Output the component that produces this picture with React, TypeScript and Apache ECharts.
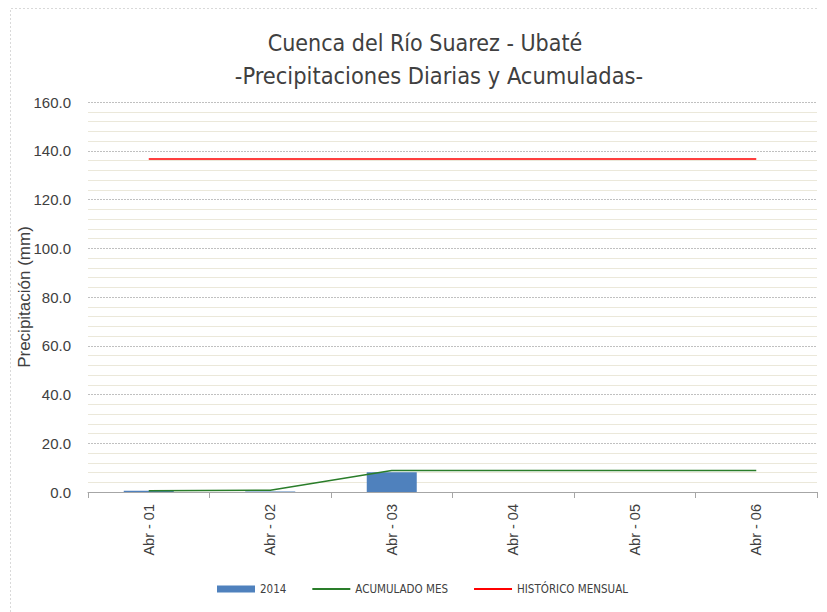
import React, { useEffect, useRef } from "react";
import * as echarts from "echarts";

const categories = ["Abr - 01", "Abr - 02", "Abr - 03", "Abr - 04", "Abr - 05", "Abr - 06"];
const daily2014 = [0.5, 0.2, 8.1, 0, 0, 0];
const acumuladoMes = [0.5, 0.7, 8.8, 8.8, 8.8, 8.8];
const historicoMensual = [136.6, 136.6, 136.6, 136.6, 136.6, 136.6];
const titleLine1 = "Cuenca del Río Suarez - Ubaté";
const titleLine2 = "-Precipitaciones Diarias y Acumuladas-";
const yAxisName = "Precipitación (mm)";

const NARROW = "'Liberation Sans Narrow', 'DejaVu Sans Condensed', sans-serif";
const SANS = "'Liberation Sans', Arial, sans-serif";

export default function App() {
  const ref = useRef<HTMLDivElement>(null);
  useEffect(() => {
    document.body.style.margin = "0";
    if (!ref.current) return;
    const chart = echarts.init(ref.current, null, { renderer: "svg" });
    chart.setOption({
      animation: false,
      backgroundColor: "#ffffff",
      title: [
        {
          text: titleLine1,
          left: 420,
          top: 26,
          textAlign: "center",
          textStyle: { fontFamily: NARROW, fontSize: 23, fontWeight: "normal", color: "#404040" },
        },
        {
          text: titleLine2,
          left: 434,
          top: 59,
          textAlign: "center",
          textStyle: { fontFamily: NARROW, fontSize: 23.4, fontWeight: "normal", color: "#404040" },
        },
      ],
      graphic: [
        {
          type: "polyline",
          shape: { points: [[10.5, 612], [10.5, 8.5], [817, 8.5]] },
          style: { fill: "none", stroke: "#d9d9d9", lineWidth: 1, lineDash: [2, 2] },
          silent: true,
        },
      ],
      grid: { left: 88, right: 10, top: 102, bottom: 120, outerBoundsMode: "none", containLabel: false },
      legend: {
        bottom: 12,
        left: 212,
        itemGap: 25,
        itemWidth: 38,
        itemHeight: 7,
        textStyle: { fontFamily: NARROW, fontSize: 11.5, color: "#404040" },
        data: [
          { name: "2014", icon: "rect" },
          { name: "ACUMULADO MES", itemStyle: { opacity: 0 } },
          { name: "HISTÓRICO MENSUAL", itemStyle: { opacity: 0 } },
        ],
      },
      xAxis: {
        type: "category",
        data: categories,
        boundaryGap: true,
        axisLine: { lineStyle: { color: "#a6a6a6" } },
        axisTick: { show: true, length: 6, lineStyle: { color: "#a6a6a6" } },
        axisLabel: { rotate: 90, fontFamily: SANS, fontSize: 14.5, color: "#404040", margin: 12 },
      },
      yAxis: {
        type: "value",
        min: 0,
        max: 160,
        interval: 20,
        name: yAxisName,
        nameLocation: "middle",
        nameGap: 55,
        nameMoveOverlap: false,
        nameTextStyle: { fontFamily: SANS, fontSize: 17, color: "#404040" },
        axisLine: { show: false },
        axisTick: { show: false },
        axisLabel: {
          fontFamily: SANS,
          fontSize: 15,
          color: "#404040",
          margin: 17,
          formatter: (v: number) => v.toFixed(1),
        },
        splitLine: { show: true, lineStyle: { color: "#c0c0c0", type: [2, 1], width: 1 } },
        minorTick: { show: false, splitNumber: 5 },
        minorSplitLine: { show: true, lineStyle: { color: "#ebe8da", width: 1 } },
      },
      series: [
        {
          name: "2014",
          type: "bar",
          data: daily2014,
          barWidth: 50,
          itemStyle: { color: "#4f81bd" },
        },
        {
          name: "ACUMULADO MES",
          type: "line",
          data: acumuladoMes,
          symbol: "none",
          lineStyle: { color: "#2a7d2a", width: 1.5 },
          itemStyle: { color: "#2a7d2a" },
        },
        {
          name: "HISTÓRICO MENSUAL",
          type: "line",
          data: historicoMensual,
          symbol: "none",
          lineStyle: { color: "#ff0000", width: 1.5 },
          itemStyle: { color: "#ff0000" },
        },
      ],
    });
    return () => chart.dispose();
  }, []);
  return <div ref={ref} style={{ width: 827, height: 612 }} />;
}
